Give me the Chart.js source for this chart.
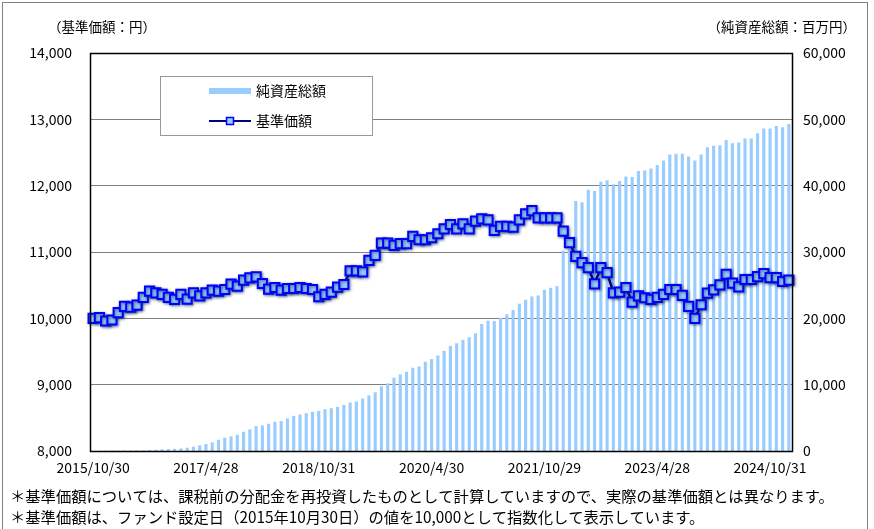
<!DOCTYPE html>
<html>
<head>
<meta charset="utf-8">
<script src="https://cdn.jsdelivr.net/npm/chart.js@4.4.1/dist/chart.umd.min.js"></script>
<style>
    body { margin: 0; background: #fff; }
    #fundChart { display: block; }
</style>
</head>
<body>
<canvas id="fundChart" width="874" height="529"></canvas>
<script>
// Monthly categories, 2015/10 .. 2025/1
var categories = [];
for (var y = 2015, m = 10; categories.length < 112; m++) {
    if (m > 12) { m = 1; y++; }
    categories.push(y + '/' + m);
}

// labels shown under the axis (every 18 months)
var tickLabels = ['2015/10/30', '2017/4/28', '2018/10/31', '2020/4/30', '2021/10/29', '2023/4/28', '2024/10/31'];

// 基準価額 (円)
var navValues = [
    10000, 10010, 9960, 9975, 10085, 10180, 10170, 10200, 10315, 10410,
    10385, 10360, 10315, 10285, 10360, 10290, 10385, 10340, 10385, 10425,
    10410, 10435, 10515, 10485, 10575, 10610, 10625, 10525, 10440, 10465,
    10425, 10450, 10450, 10465, 10450, 10435, 10325, 10360, 10395, 10470,
    10510, 10715, 10715, 10700, 10875, 10950, 11135, 11135, 11100, 11125,
    11125, 11235, 11185, 11185, 11215, 11275, 11350, 11415, 11350, 11425,
    11350, 11465, 11500, 11485, 11325, 11385, 11385, 11375, 11485, 11575,
    11625, 11515, 11515, 11515, 11515, 11315, 11140, 10935, 10840, 10765,
    10520, 10765, 10690, 10385, 10395, 10465, 10245, 10340, 10310, 10285,
    10315, 10360, 10435, 10435, 10345, 10180, 10000, 10205, 10380, 10430,
    10505, 10665, 10530, 10475, 10585, 10585, 10630, 10675, 10615, 10615,
    10555, 10575
];

// 純資産総額 (百万円)
var assetValues = [
    20, 30, 40, 40, 50, 60, 70, 80, 90, 150,
    200, 250, 300, 320, 380, 500, 650, 850, 1050, 1300,
    1700, 2000, 2200, 2450, 2900, 3250, 3750, 3850, 4100, 4400,
    4500, 4900, 5300, 5500, 5700, 5900, 6050, 6300, 6450, 6650,
    6950, 7300, 7450, 7900, 8400, 8850, 9750, 10200, 11050, 11550,
    11950, 12550, 12750, 13450, 13850, 14400, 15100, 15850, 16250, 16750,
    17150, 17750, 19150, 19650, 19600, 20100, 20600, 21250, 22200, 22800,
    23300, 23450, 24300, 24600, 24850, 30200, 30400, 37700, 37500, 39400,
    39200, 40600, 40800, 40200, 40700, 41400, 41300, 42200, 42300, 42600,
    43100, 43800, 44700, 44800, 44800, 44400, 43800, 44700, 45800, 46000,
    46100, 46900, 46400, 46500, 47100, 47100, 47900, 48600, 48600, 49000,
    48800, 49300
];

var JP_FONT = "'Noto Sans CJK JP', 'Noto Sans', sans-serif";
Chart.defaults.font.family = JP_FONT;
Chart.defaults.color = '#000';

// soft dark halo under the line + markers
var lineShadow = {
    id: 'lineShadow',
    beforeDatasetDraw: function(chart, args) {
        if (args.meta.type !== 'line') return;
        var ctx = chart.ctx;
        ctx.save();
        ctx.shadowColor = 'rgba(20, 50, 90, 0.65)';
        ctx.shadowBlur = 3;
        ctx.shadowOffsetX = 1;
        ctx.shadowOffsetY = 1;
    },
    afterDatasetDraw: function(chart, args) {
        if (args.meta.type !== 'line') return;
        chart.ctx.restore();
    }
};

// plot frame, legend box, axis titles, notes
var decorations = {
    id: 'decorations',
    afterDatasetsDraw: function(chart) {
        var ctx = chart.ctx;
        var a = chart.chartArea;
        ctx.save();
        ctx.strokeStyle = '#000';
        ctx.lineWidth = 1.5;
        ctx.strokeRect(Math.round(a.left) + 0.5, Math.round(a.top) + 0.5,
            Math.round(a.right - a.left), Math.round(a.bottom - a.top));
        ctx.restore();
    },
    afterDraw: function(chart) {
        var ctx = chart.ctx;
        ctx.save();

        // outer frame
        ctx.strokeStyle = '#808080';
        ctx.lineWidth = 1;
        ctx.strokeRect(2.5, 2.5, 865, 600);

        // legend
        ctx.fillStyle = '#fff';
        ctx.fillRect(160, 76, 212, 59);
        ctx.strokeStyle = '#999';
        ctx.strokeRect(160.5, 76.5, 212, 59);

        ctx.fillStyle = '#99CCFF';
        ctx.fillRect(209, 88, 42, 6);

        ctx.strokeStyle = '#000080';
        ctx.lineWidth = 2;
        ctx.beginPath();
        ctx.moveTo(209, 121);
        ctx.lineTo(251, 121);
        ctx.stroke();
        ctx.fillStyle = '#99CCFF';
        ctx.fillRect(226.5, 117.5, 7, 7);
        ctx.strokeStyle = '#0000FF';
        ctx.lineWidth = 1.5;
        ctx.strokeRect(226.5, 117.5, 7, 7);

        ctx.fillStyle = '#000';
        ctx.font = '14px ' + JP_FONT;
        ctx.textBaseline = 'middle';
        ctx.textAlign = 'left';
        ctx.fillText('純資産総額', 256, 91);
        ctx.fillText('基準価額', 256, 121);

        // axis titles
        ctx.font = '13.5px ' + JP_FONT;
        ctx.fillText('（基準価額：円）', 48, 27);
        ctx.textAlign = 'right';
        ctx.fillText('（純資産総額：百万円）', 856, 27);

        // notes
        ctx.textAlign = 'left';
        ctx.font = '15.3px ' + JP_FONT;
        ctx.fillText('＊基準価額については、課税前の分配金を再投資したものとして計算していますので、実際の基準価額とは異なります。', 10, 496);
        ctx.fillText('＊基準価額は、ファンド設定日（2015年10月30日）の値を10,000として指数化して表示しています。', 10, 517);
        ctx.restore();
    }
};

new Chart(document.getElementById('fundChart'), {
    data: {
        labels: categories,
        datasets: [{
            type: 'line',
            label: '基準価額',
            data: navValues,
            yAxisID: 'y',
            order: 0,
            borderColor: '#000080',
            borderWidth: 2.5,
            tension: 0,
            pointStyle: 'rect',
            pointRadius: 6.5,
            pointBackgroundColor: '#99CCFF',
            pointBorderColor: '#0000FF',
            pointBorderWidth: 2
        }, {
            type: 'bar',
            label: '純資産総額',
            data: assetValues,
            yAxisID: 'y1',
            order: 1,
            backgroundColor: '#99CCFF',
            barPercentage: 0.5,
            categoryPercentage: 1.0
        }]
    },
    options: {
        responsive: false,
        animation: false,
        devicePixelRatio: 1,
        layout: { padding: { top: 53, left: 0, right: 0, bottom: 0 } },
        plugins: {
            legend: { display: false },
            tooltip: { enabled: false }
        },
        scales: {
            x: {
                offset: true,
                grid: { display: false, drawTicks: false },
                border: { display: false },
                ticks: {
                    autoSkip: false,
                    maxRotation: 0,
                    padding: 8,
                    font: { size: 14 },
                    callback: function(val, idx) {
                        return idx % 18 === 0 ? tickLabels[idx / 18] : '';
                    }
                },
                afterFit: function(scale) { scale.height = 78; }
            },
            y: {
                position: 'left',
                min: 8000,
                max: 14000,
                grid: { color: '#808080', drawTicks: false },
                border: { display: false },
                ticks: {
                    stepSize: 1000,
                    padding: 18,
                    font: { size: 14 },
                    callback: function(v) { return v.toLocaleString('en-US'); }
                },
                afterFit: function(scale) { scale.width = 90; }
            },
            y1: {
                position: 'right',
                min: 0,
                max: 60000,
                grid: { display: false, drawTicks: false },
                border: { display: false },
                ticks: {
                    stepSize: 10000,
                    padding: 11,
                    font: { size: 14 },
                    callback: function(v) { return v.toLocaleString('en-US'); }
                },
                afterFit: function(scale) { scale.width = 82; }
            }
        }
    },
    plugins: [lineShadow, decorations]
});
</script>
</body>
</html>
